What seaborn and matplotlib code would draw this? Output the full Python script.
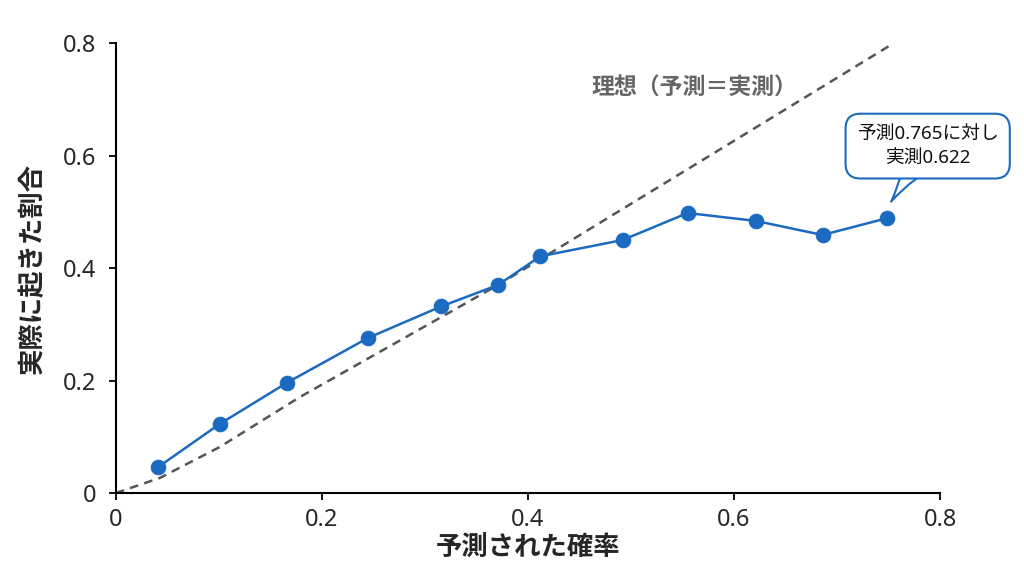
import matplotlib
matplotlib.use("Agg")
import matplotlib.pyplot as plt
import seaborn as sns
import pandas as pd

# ========== DATA ==========
pred_prob = [0.041, 0.101, 0.166, 0.245, 0.316, 0.371, 0.412, 0.492, 0.555, 0.621, 0.686, 0.749]
obs_rate = [0.046, 0.123, 0.196, 0.276, 0.332, 0.370, 0.421, 0.450, 0.498, 0.484, 0.459, 0.489]

# ideal reference line as drawn (slightly bent near the origin)
ideal_x = [0.0, 0.043, 0.101, 0.179, 0.371, 0.431, 0.755]
ideal_y = [0.0, 0.027, 0.082, 0.171, 0.370, 0.437, 0.800]

ticks = [0, 0.2, 0.4, 0.6, 0.8]
tick_labels = ["0", "0.2", "0.4", "0.6", "0.8"]

ideal_label = "理想（予測＝実測）"
callout_text = "予測0.765に対し\n実測0.622"
xlabel = "予測された確率"
ylabel = "実際に起きた割合"

blue = "#1b6ac1"
latin_first = ["Noto Sans", "Noto Sans CJK JP", "DejaVu Sans"]

# ========== STYLE ==========
sns.set_theme(style="white")
plt.rcParams["font.family"] = ["Noto Sans CJK JP", "DejaVu Sans"]

df = pd.DataFrame({"pred": pred_prob, "obs": obs_rate})
ideal_df = pd.DataFrame({"x": ideal_x, "y": ideal_y})

fig = plt.figure(figsize=(10.24, 5.76), dpi=100)
ax = fig.add_axes([0.113, 0.144, 0.805, 0.781])

sns.lineplot(data=ideal_df, x="x", y="y", ax=ax, sort=False, color="#555555",
             linewidth=1.8, dashes=False, linestyle=(0, (3.5, 2.5)))
sns.lineplot(data=df, x="pred", y="obs", ax=ax, sort=False, color=blue,
             linewidth=1.8, marker="o", markersize=10.5, markeredgecolor=blue,
             markerfacecolor=blue)

ax.set_xlim(0, 0.8)
ax.set_ylim(0, 0.8)
ax.set_xticks(ticks)
ax.set_xticklabels(tick_labels, family=latin_first)
ax.set_yticks(ticks)
ax.set_yticklabels(tick_labels, family=latin_first)
ax.tick_params(axis="both", labelsize=17, length=5, width=1.3, color="black",
               direction="out", bottom=True, left=True)
ax.tick_params(axis="x", pad=6)
ax.tick_params(axis="y", pad=9)

for side in ["top", "right"]:
    ax.spines[side].set_visible(False)
for side in ["left", "bottom"]:
    ax.spines[side].set_color("black")
    ax.spines[side].set_linewidth(1.5)

ax.set_xlabel(xlabel, fontsize=19, fontweight="bold", labelpad=2)
ax.set_ylabel(ylabel, fontsize=19, fontweight="bold", labelpad=12)

# ideal label
ax.text(0.462, 0.72, ideal_label, fontsize=16.5, fontweight="bold",
        color="#666666", ha="left", va="center")

# callout for last point
ax.annotate(callout_text, xy=(0.751, 0.514), xytext=(0.788, 0.617),
            textcoords="data", ha="center", va="center", fontsize=13.5,
            family=latin_first, color="#111111", linespacing=1.45,
            annotation_clip=False,
            bbox=dict(boxstyle="round,pad=0.6,rounding_size=0.8", fc="white",
                      ec=blue, lw=1.5),
            arrowprops=dict(arrowstyle="wedge,tail_width=2.4,shrink_factor=0.35",
                            fc="white", ec=blue, lw=1.5, patchA=None))

fig.savefig("out.png", dpi=100)
